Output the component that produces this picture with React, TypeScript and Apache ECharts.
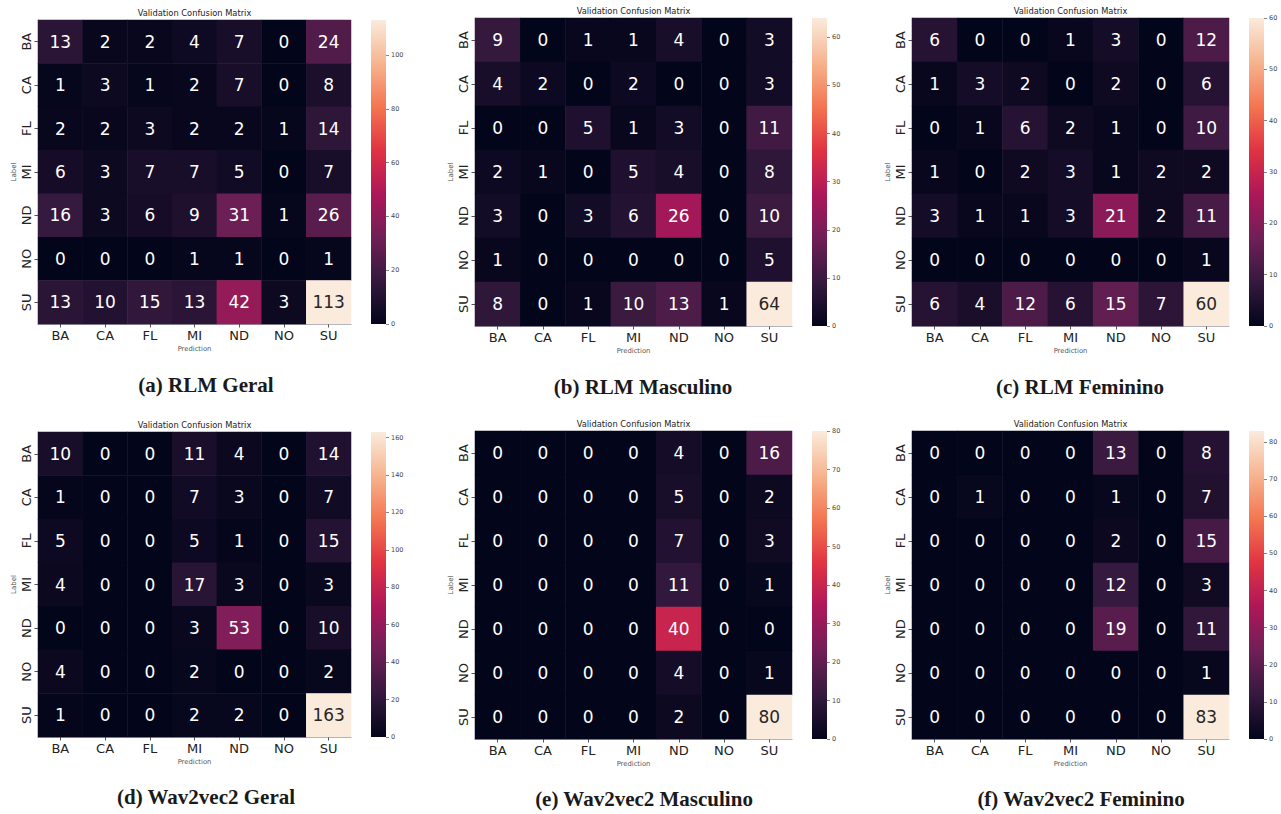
import React, { useEffect, useRef } from "react";
import * as echarts from "echarts";

const CLASSES = ["BA", "CA", "FL", "MI", "ND", "NO", "SU"];

const RLM_GERAL = [
  [13, 2, 2, 4, 7, 0, 24],
  [1, 3, 1, 2, 7, 0, 8],
  [2, 2, 3, 2, 2, 1, 14],
  [6, 3, 7, 7, 5, 0, 7],
  [16, 3, 6, 9, 31, 1, 26],
  [0, 0, 0, 1, 1, 0, 1],
  [13, 10, 15, 13, 42, 3, 113],
];
const RLM_MASC = [
  [9, 0, 1, 1, 4, 0, 3],
  [4, 2, 0, 2, 0, 0, 3],
  [0, 0, 5, 1, 3, 0, 11],
  [2, 1, 0, 5, 4, 0, 8],
  [3, 0, 3, 6, 26, 0, 10],
  [1, 0, 0, 0, 0, 0, 5],
  [8, 0, 1, 10, 13, 1, 64],
];
const RLM_FEM = [
  [6, 0, 0, 1, 3, 0, 12],
  [1, 3, 2, 0, 2, 0, 6],
  [0, 1, 6, 2, 1, 0, 10],
  [1, 0, 2, 3, 1, 2, 2],
  [3, 1, 1, 3, 21, 2, 11],
  [0, 0, 0, 0, 0, 0, 1],
  [6, 4, 12, 6, 15, 7, 60],
];
const W2V_GERAL = [
  [10, 0, 0, 11, 4, 0, 14],
  [1, 0, 0, 7, 3, 0, 7],
  [5, 0, 0, 5, 1, 0, 15],
  [4, 0, 0, 17, 3, 0, 3],
  [0, 0, 0, 3, 53, 0, 10],
  [4, 0, 0, 2, 0, 0, 2],
  [1, 0, 0, 2, 2, 0, 163],
];
const W2V_MASC = [
  [0, 0, 0, 0, 4, 0, 16],
  [0, 0, 0, 0, 5, 0, 2],
  [0, 0, 0, 0, 7, 0, 3],
  [0, 0, 0, 0, 11, 0, 1],
  [0, 0, 0, 0, 40, 0, 0],
  [0, 0, 0, 0, 4, 0, 1],
  [0, 0, 0, 0, 2, 0, 80],
];
const W2V_FEM = [
  [0, 0, 0, 0, 13, 0, 8],
  [0, 1, 0, 0, 1, 0, 7],
  [0, 0, 0, 0, 2, 0, 15],
  [0, 0, 0, 0, 12, 0, 3],
  [0, 0, 0, 0, 19, 0, 11],
  [0, 0, 0, 0, 0, 0, 1],
  [0, 0, 0, 0, 0, 0, 83],
];

const MATRICES = [RLM_GERAL, RLM_MASC, RLM_FEM, W2V_GERAL, W2V_MASC, W2V_FEM];
const CAPTIONS = [
  "(a) RLM Geral",
  "(b) RLM Masculino",
  "(c) RLM Feminino",
  "(d) Wav2vec2 Geral",
  "(e) Wav2vec2 Masculino",
  "(f) Wav2vec2 Feminino",
];
const CBAR_STEPS = [20, 10, 10, 20, 10, 10];
const TITLE = "Validation Confusion Matrix";

const ROCKET = ["#03051a", "#35193e", "#701f57", "#ad1759", "#e13342", "#f37651", "#f6b48f", "#faebdd"];

// layout: heatmap rect, colorbar x, title y, caption center x / y
const LAYOUT = [
  { x: 38, y: 20, w: 313, h: 304, cb: 371, ty: 9, cx: 206, cy: 374 },
  { x: 475, y: 18, w: 317, h: 308, cb: 812, ty: 7, cx: 643, cy: 376 },
  { x: 912, y: 18, w: 317, h: 308, cb: 1249, ty: 7, cx: 1080, cy: 376 },
  { x: 38, y: 432, w: 313, h: 305, cb: 371, ty: 421, cx: 206, cy: 786 },
  { x: 475, y: 431, w: 317, h: 308, cb: 812, ty: 420, cx: 644, cy: 788 },
  { x: 912, y: 431, w: 317, h: 308, cb: 1249, ty: 420, cx: 1081, cy: 788 },
];

function buildOption() {
  const grid: any[] = [];
  const xAxis: any[] = [];
  const yAxis: any[] = [];
  const series: any[] = [];
  const visualMap: any[] = [];
  const title: any[] = [];
  const stops = ROCKET.map((c, i) => ({ offset: i / (ROCKET.length - 1), color: c }));

  MATRICES.forEach((m, i) => {
    const L = LAYOUT[i];
    let vmax = 0;
    m.forEach((row) => row.forEach((v) => (vmax = Math.max(vmax, v))));
    const gi = i * 2;
    grid.push({ left: L.x, top: L.y, width: L.w, height: L.h, containLabel: false });
    grid.push({ left: L.cb, top: L.y, width: 15, height: L.h, containLabel: false });

    xAxis.push({
      type: "category",
      gridIndex: gi,
      data: CLASSES,
      position: "bottom",
      name: "Prediction",
      nameLocation: "middle",
      nameGap: 21,
      nameTextStyle: { fontSize: 6.8, color: "#555", fontFamily: "DejaVu Sans" },
      axisLine: { show: true, lineStyle: { color: "#a0a0b0", width: 1 } },
      axisTick: { show: true, alignWithLabel: true, length: 3.5, lineStyle: { color: "#555" } },
      axisLabel: { fontSize: 13, color: "#222", fontFamily: "DejaVu Sans", margin: 5 },
      splitLine: { show: false },
    });
    yAxis.push({
      type: "category",
      gridIndex: gi,
      data: CLASSES,
      inverse: true,
      name: "Label",
      nameLocation: "middle",
      nameGap: 21,
      nameRotate: 90,
      nameTextStyle: { fontSize: 7, color: "#555", fontFamily: "DejaVu Sans" },
      axisLine: { show: true, lineStyle: { color: "#a0a0b0", width: 1 } },
      axisTick: { show: true, alignWithLabel: true, length: 3.5, lineStyle: { color: "#555" } },
      axisLabel: { fontSize: 13, color: "#222", fontFamily: "DejaVu Sans", rotate: 90, margin: 5 },
      splitLine: { show: false },
    });
    xAxis.push({ type: "category", gridIndex: gi + 1, data: ["cb"], show: false });
    yAxis.push({
      type: "value",
      gridIndex: gi + 1,
      min: 0,
      max: vmax,
      interval: CBAR_STEPS[i],
      position: "right",
      axisLine: { show: false },
      axisTick: { show: true, length: 3, lineStyle: { color: "#666", width: 0.8 } },
      axisLabel: {
        fontSize: 6.5,
        color: "#444",
        fontFamily: "DejaVu Sans",
        margin: 5,
        showMaxLabel: vmax % CBAR_STEPS[i] === 0 ? true : false,
      },
      splitLine: { show: false },
    });

    const data: any[] = [];
    m.forEach((row, r) =>
      row.forEach((v, c) => {
        data.push({
          value: [c, r, v],
          label: { color: v / vmax > 0.7 ? "#262626" : "#ffffff" },
        });
      })
    );
    series.push({
      type: "heatmap",
      xAxisIndex: gi,
      yAxisIndex: gi,
      data,
      label: {
        show: true,
        fontSize: 17,
        fontFamily: "DejaVu Sans",
        formatter: (p: any) => String(p.value[2]),
      },
      itemStyle: { borderWidth: 0 },
      emphasis: { disabled: true },
    });
    visualMap.push({
      show: false,
      type: "continuous",
      seriesIndex: series.length - 1,
      dimension: 2,
      min: 0,
      max: vmax,
      inRange: { color: ROCKET },
    });
    series.push({
      type: "bar",
      xAxisIndex: gi + 1,
      yAxisIndex: gi + 1,
      data: [vmax],
      barWidth: "100%",
      silent: true,
      itemStyle: { color: new echarts.graphic.LinearGradient(0, 1, 0, 0, stops) },
    });

    title.push({
      text: TITLE,
      left: L.x + L.w / 2,
      top: L.ty,
      textAlign: "center",
      padding: 0,
      textStyle: { fontSize: 8.3, fontWeight: "normal", color: "#222", fontFamily: "DejaVu Sans" },
    });
    title.push({
      text: CAPTIONS[i],
      left: L.cx,
      top: L.cy,
      textAlign: "center",
      padding: 0,
      textStyle: { fontSize: 21, fontWeight: "bold", color: "#1a1a1a", fontFamily: "Liberation Serif" },
    });
  });

  return {
    animation: false,
    backgroundColor: "#ffffff",
    title,
    grid,
    xAxis,
    yAxis,
    visualMap,
    series,
  };
}

export default function App() {
  const ref = useRef<HTMLDivElement>(null);
  useEffect(() => {
    if (!ref.current) return;
    const chart = echarts.init(ref.current, null, { renderer: "svg" });
    chart.setOption(buildOption() as any);
    return () => chart.dispose();
  }, []);
  return (
    <div
      ref={ref}
      style={{ position: "fixed", left: 0, top: 0, width: 1281, height: 814, background: "#fff" }}
    />
  );
}
